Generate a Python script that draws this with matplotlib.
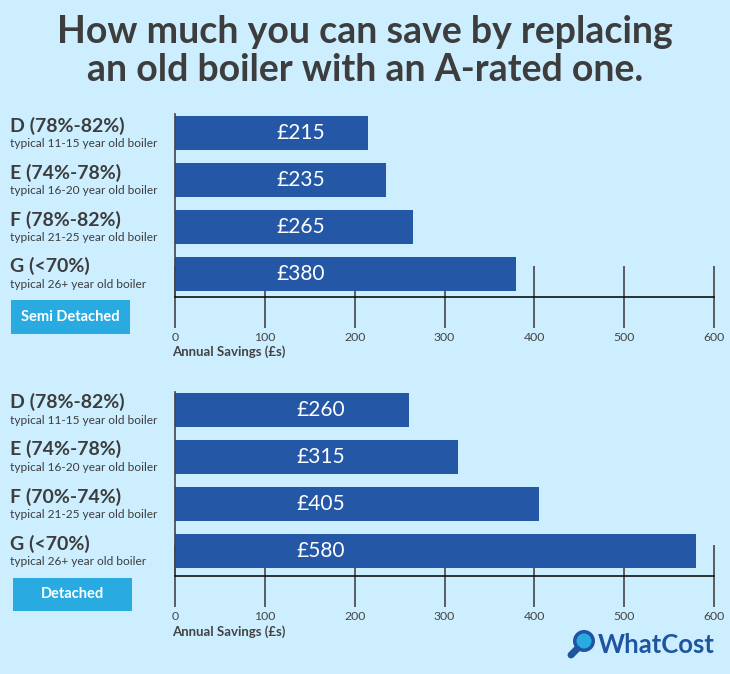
import matplotlib
matplotlib.use("Agg")
import matplotlib.pyplot as plt
import matplotlib.transforms as mtransforms
from matplotlib.patches import Rectangle, Circle

plt.rcParams['font.family'] = ['Lato', 'DejaVu Sans']

# ---- data ----
title = "How much you can save by replacing\nan old boiler with an A-rated one."
semi_grades = ["D (78%-82%)", "E (74%-78%)", "F (78%-82%)", "G (<70%)"]
det_grades = ["D (78%-82%)", "E (74%-78%)", "F (70%-74%)", "G (<70%)"]
ages = ["typical 11-15 year old boiler", "typical 16-20 year old boiler",
        "typical 21-25 year old boiler", "typical 26+ year old boiler"]
semi_values = [215, 235, 265, 380]
det_values = [260, 315, 405, 580]
xticks = [0, 100, 200, 300, 400, 500, 600]
xlabel = "Annual Savings (£s)"
panel_names = ["Semi Detached", "Detached"]

BG = "#CCEEFF"
BAR = "#2557A7"
DARK = "#3d3d3d"
BADGE = "#29ABE2"
LOGO = "#1F55A0"

W, H = 730, 674
fig = plt.figure(figsize=(W / 100, H / 100), dpi=100, facecolor=BG)

def fx(px):
    return px / W

def fy(py):
    return 1 - py / H

fig.text(0.5, fy(51), title, ha="center", va="center", fontsize=27,
         fontweight="bold", color=DARK, linespacing=1.15)

def panel(top_px, bottom_px, ylim, grades, values, label_x, badge_box, name, xl_px):
    ax = fig.add_axes([fx(175), fy(bottom_px), fx(714) - fx(175),
                       (bottom_px - top_px) / H])
    ax.set_facecolor("none")
    ypos = list(range(len(values)))
    ax.barh(ypos, values, height=0.72, color=BAR, zorder=2)
    ax.set_xlim(0, 600)
    ax.set_ylim(ylim[1], ylim[0])
    ax.set_yticks([])
    ax.set_xticks(xticks)
    ax.set_axisbelow(True)
    ax.tick_params(axis="x", direction="inout", length=44.6, width=1.2,
                   color="#444444", pad=3, labelsize=8.8, labelcolor="#444444")
    for s in ["top", "right"]:
        ax.spines[s].set_visible(False)
    ax.spines["bottom"].set_color("#111111")
    ax.spines["bottom"].set_linewidth(1.2)
    ax.spines["bottom"].set_zorder(3)
    ax.spines["left"].set_color("#444444")
    ax.spines["left"].set_linewidth(1.2)
    fig.text(fx(172), fy(xl_px), xlabel, ha="left", va="center",
             fontsize=9.5, fontweight="bold", color="#444444")
    for y, v in zip(ypos, values):
        ax.text(label_x, y, f"£{v}", ha="center", va="center", color="white",
                fontsize=15, fontweight="normal", zorder=4)
    tr = mtransforms.blended_transform_factory(fig.transFigure, ax.transData)
    for y, g, a in zip(ypos, grades, ages):
        ax.text(fx(10), y - 0.16, g, transform=tr, ha="left", va="center",
                fontsize=14, fontweight="bold", color=DARK)
        ax.text(fx(10), y + 0.22, a, transform=tr, ha="left", va="center",
                fontsize=8.6, color=DARK)
    x0, y0, x1, y1 = badge_box
    fig.patches.append(Rectangle((fx(x0), fy(y1)), fx(x1) - fx(x0),
                                 (y1 - y0) / H, transform=fig.transFigure,
                                 facecolor=BADGE, edgecolor="none"))
    fig.text((fx(x0) + fx(x1)) / 2, fy((y0 + y1) / 2), name, ha="center",
             va="center", color="white", fontsize=10.5, fontweight="bold")
    return ax

ax1 = panel(114, 297, (-0.404, 3.49), semi_grades, semi_values, 140,
            (11, 300, 130, 334), panel_names[0], 352)
ax2 = panel(392, 576, (-0.38, 3.53), det_grades, det_values, 162,
            (13, 578, 132, 611), panel_names[1], 632)

# logo
iax = fig.add_axes([fx(566), fy(660), fx(600) - fx(566), 34 / H])
iax.set_xlim(0, 34)
iax.set_ylim(0, 34)
iax.set_aspect("equal")
iax.axis("off")
iax.plot([5, 11], [5, 11], color=LOGO, lw=5, solid_capstyle="round")
iax.add_patch(Circle((18, 19), 11, facecolor=LOGO, edgecolor="none"))
iax.add_patch(Circle((18, 19), 7.5, facecolor=BADGE, edgecolor="none"))
fig.text(fx(598), fy(645), "WhatCost", ha="left", va="center", fontsize=18.5,
         fontweight="bold", color=LOGO)

fig.savefig("out.png", dpi=100, facecolor=BG)
